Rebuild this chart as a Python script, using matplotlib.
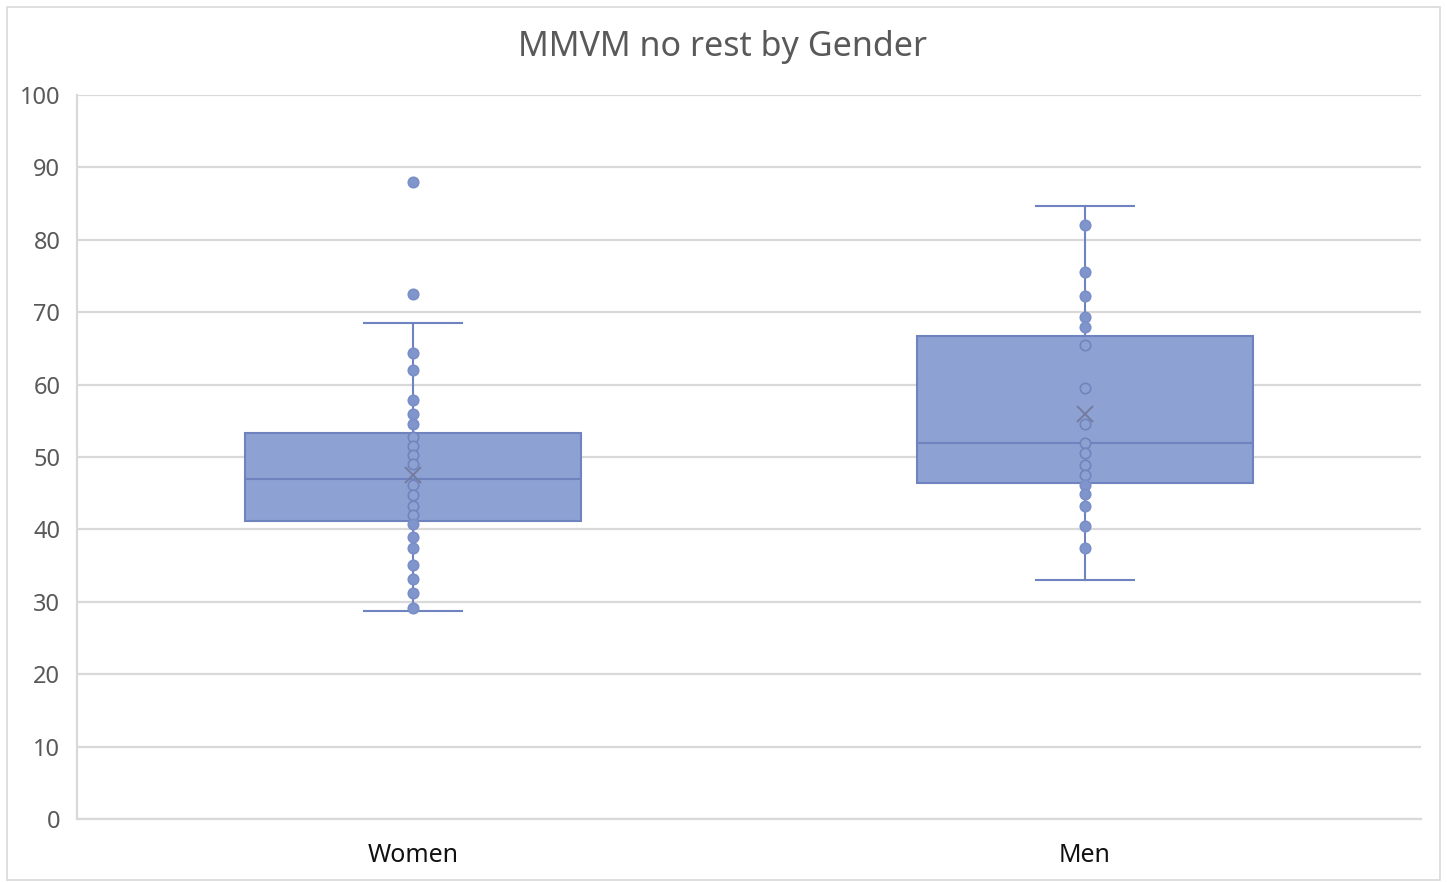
import matplotlib
matplotlib.use("Agg")
import matplotlib.pyplot as plt
from matplotlib.patches import Rectangle

plt.rcParams['font.family'] = ['Noto Sans', 'DejaVu Sans']

#Categories and raw points shown on the chart
categories = ['Women', 'Men']
women_points = [88.0, 72.5, 64.3, 62.0, 57.9, 56.0, 54.5, 52.8, 51.5, 50.3, 49.1,
                46.1, 44.8, 43.3, 42.0, 40.8, 39.0, 37.5, 35.1, 33.2, 31.2, 29.2]
men_points = [82.0, 75.5, 72.3, 69.4, 67.9, 65.5, 59.5, 54.6, 51.9, 50.5, 48.9,
              47.5, 46.1, 44.9, 43.2, 40.5, 37.5]

#Box statistics per category (Women, Men)
q1 = [41.2, 46.4]
medians = [47.0, 51.9]
q3 = [53.3, 66.7]
whisker_low = [28.7, 33.0]
whisker_high = [68.5, 84.7]
means = [47.5, 56.0]

y_ticks = [0, 10, 20, 30, 40, 50, 60, 70, 80, 90, 100]

box_fill = '#8EA1D3'
box_edge = '#6F84BF'
grid_col = '#D9D9D9'
text_col = '#595959'

fig = plt.figure(figsize=(14.47, 8.82), dpi=100)
ax = fig.add_axes([77/1447, 63/882, (1421-77)/1447, (819-95)/882])

#Light border round the whole chart
fig.patches.append(Rectangle((7/1447, 2/882), 1433/1447, 873/882, transform=fig.transFigure,
                             fill=False, edgecolor='#D9D9D9', lw=1.2))

positions = [0.5, 1.5]
stats = []
for i, name in enumerate(categories):
    stats.append(dict(label=name, q1=q1[i], med=medians[i], q3=q3[i],
                      whislo=whisker_low[i], whishi=whisker_high[i], mean=means[i], fliers=[]))

ax.bxp(stats, positions=positions, widths=0.5, patch_artist=True, showmeans=False,
       boxprops=dict(facecolor=box_fill, edgecolor=box_edge, lw=1.5),
       medianprops=dict(color=box_edge, lw=1.5),
       whiskerprops=dict(color=box_edge, lw=1.5),
       capprops=dict(color=box_edge, lw=1.5), capwidths=0.147, zorder=2)

#Individual points, filled outside the box and outlined inside it
for i, pts in enumerate([women_points, men_points]):
    for v in pts:
        inside = q1[i] < v < q3[i]
        ax.plot(positions[i], v, 'o', ms=7.5, zorder=3,
                mfc=box_fill if inside else '#8095CB',
                mec='#7184BC' if inside else '#7A8EC7', mew=1.2)
    ax.plot(positions[i], means[i], 'x', ms=12, mew=1.4, color='#737C9E', zorder=4)

ax.set_xlim(0, 2)
ax.set_ylim(0, 100)
ax.set_yticks(y_ticks)
ax.set_yticklabels([str(t) for t in y_ticks], fontsize=17, color=text_col)
ax.set_xticks(positions)
ax.set_xticklabels(categories, fontsize=18, color='#111111')
ax.tick_params(axis='y', length=0, pad=12)
ax.tick_params(axis='x', length=0, pad=17)

ax.grid(axis='y', color=grid_col, lw=1.6, zorder=0)
ax.set_axisbelow(True)
for side in ['top', 'right']:
    ax.spines[side].set_visible(False)
ax.spines['left'].set_color(grid_col)
ax.spines['left'].set_linewidth(1.6)
ax.spines['bottom'].set_color(grid_col)
ax.spines['bottom'].set_linewidth(1.6)

fig.text(722/1447, 1 - 47/882, 'MMVM no rest by Gender', ha='center', va='center',
         fontsize=24.5, color=text_col)

plt.savefig('out.png', dpi=100)
plt.close()
